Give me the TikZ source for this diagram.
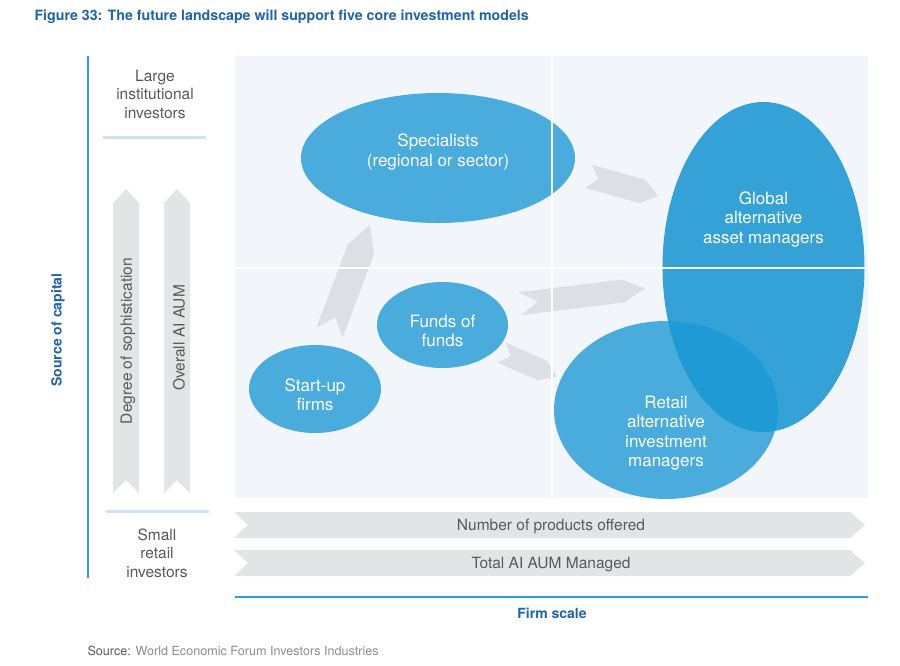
\documentclass[tikz,border=0pt]{standalone}
\usepackage{fontspec}
\setmainfont{TeX Gyre Heros}
\usetikzlibrary{shapes.geometric,calc,positioning}

\definecolor{wefblue}{HTML}{1F64A8}
\definecolor{axisblue}{HTML}{2A9FDB}
\definecolor{barblue}{HTML}{CFE2F3}
\definecolor{panelbg}{HTML}{F2F6FB}
\definecolor{bubble}{HTML}{1B98D5}
\definecolor{bigbubble}{HTML}{35A2D7}
\definecolor{txtgray}{HTML}{58595B}
\definecolor{srcgray}{HTML}{8C8C8C}
\definecolor{chevgray}{HTML}{E3E4E5}
\definecolor{flowgray}{HTML}{DCDFE3}

% tail, tip, half width, head length, notch depth
\newcommand{\chevarrow}[6][chev]{%
  \coordinate (cvs) at ($(#3)!#5!(#2)$);
  \fill[#1] ($(#2)!#4!90:(#3)$) -- ($(cvs)!#4!90:(#3)$) -- (#3)
    -- ($(cvs)!#4!-90:(#3)$) -- ($(#2)!#4!-90:(#3)$) -- ($(#2)!#6!(#3)$) -- cycle;
}

\begin{document}
\begin{tikzpicture}[x=1pt, y=-1pt,
    bubble/.style={ellipse, fill=bubble, fill opacity=0.78, inner sep=0pt},
    btext/.style={text=white, align=center, font=\fontsize{17}{19.5}\selectfont},
    gtext/.style={text=txtgray, align=center, font=\fontsize{15.5}{18.5}\selectfont},
    axtext/.style={text=wefblue, font=\bfseries\fontsize{14}{16}\selectfont},
    chev/.style={fill=chevgray},
    flow/.style={fill=flowgray}]
  \useasboundingbox (0,0) rectangle (900,665);

  \node[anchor=west, text=wefblue, font=\bfseries\fontsize{14.2}{17}\selectfont] (title) at (31,17)
    {Figure 33: The future landscape will support five core investment models};

  \fill[panelbg] (235,56) rectangle (868,498);

  % axes
  \draw[axisblue, line width=1.3pt] (88,56) -- (88,578);
  \draw[axisblue, line width=1.3pt] (235,597) -- (868,597);
  \node[axtext, rotate=90] (capital) at (58,330) {Source of capital};
  \node[axtext] (scale) at (552,613) {Firm scale};

  \node[gtext] (large) at (155,94) {Large\\institutional\\investors};
  \node[gtext] (small) at (157,553) {Small\\retail\\investors};
  \draw[barblue, line width=3pt] (103,137) -- (206,137);
  \draw[barblue, line width=3pt] (106,511) -- (209,511);

  \coordinate (v1s) at (126,493); \coordinate (v1e) at (126,189);
  \coordinate (v2s) at (177,493); \coordinate (v2e) at (177,189);
  \coordinate (h1s) at (234,525); \coordinate (h1e) at (865,525);
  \coordinate (h2s) at (234,563); \coordinate (h2e) at (865,563);
  \chevarrow{v1s}{v1e}{13pt}{14pt}{13pt}
  \chevarrow{v2s}{v2e}{13pt}{14pt}{13pt}
  \chevarrow{h1s}{h1e}{13pt}{15pt}{14pt}
  \chevarrow{h2s}{h2e}{13pt}{15pt}{14pt}
  \node[gtext, rotate=90] (soph) at (128,341) {Degree of sophistication};
  \node[gtext, rotate=90] (aum) at (179,338) {Overall AI AUM};
  \node[gtext] (products) at (551,527) {Number of products offered};
  \node[gtext] (managed) at (551,565) {Total AI AUM Managed};

  % flows between models
  \coordinate (fas) at (329.5,332.5); \coordinate (fae) at (370,225);
  \coordinate (fbs) at (588.7,176.3); \coordinate (fbe) at (658.3,196);
  \coordinate (fcs) at (520,303.7);   \coordinate (fce) at (645,288.3);
  \coordinate (fds) at (501.7,352.5); \coordinate (fde) at (556.7,376.7);
  \chevarrow[flow]{fas}{fae}{14pt}{26pt}{16pt}
  \chevarrow[flow]{fbs}{fbe}{12pt}{16.5pt}{10pt}
  \chevarrow[flow]{fcs}{fce}{11.5pt}{22pt}{18pt}
  \chevarrow[flow]{fds}{fde}{10.8pt}{16pt}{10pt}

  \node[ellipse, fill=bigbubble, inner sep=0pt, minimum width=202pt, minimum height=330pt] (global) at (763.5,267) {};
  \node[bubble, minimum width=224pt, minimum height=178pt] (retail) at (666,410) {};
  \node[bubble, minimum width=274pt, minimum height=130pt] (spec) at (438,158) {};
  \node[bubble, minimum width=131pt, minimum height=86pt] (funds) at (442.5,325) {};
  \node[bubble, minimum width=132pt, minimum height=88pt] (startup) at (315,389) {};

  \draw[white, line width=2pt] (552,56) -- (552,498);
  \draw[white, line width=2pt] (235,268) -- (868,268);

  \node[btext] (spectxt) at ([yshift=6pt]spec.center) {Specialists\\(regional or sector)};
  \node[btext] (globaltxt) at ([yshift=48pt]global.center) {Global\\alternative\\asset managers};
  \node[btext] (retailtxt) at ([yshift=-23pt]retail.center) {Retail\\alternative\\investment\\managers};
  \node[btext] (fundstxt) at ([yshift=-6pt]funds.center) {Funds of\\funds};
  \node[btext] (startuptxt) at ([yshift=-6pt]startup.center) {Start-up\\firms};

  \node[anchor=west, font=\fontsize{12.6}{15}\selectfont] (source) at (84,651)
    {\textcolor{txtgray}{Source:} \textcolor{srcgray}{World Economic Forum Investors Industries}};
\end{tikzpicture}
\end{document}
